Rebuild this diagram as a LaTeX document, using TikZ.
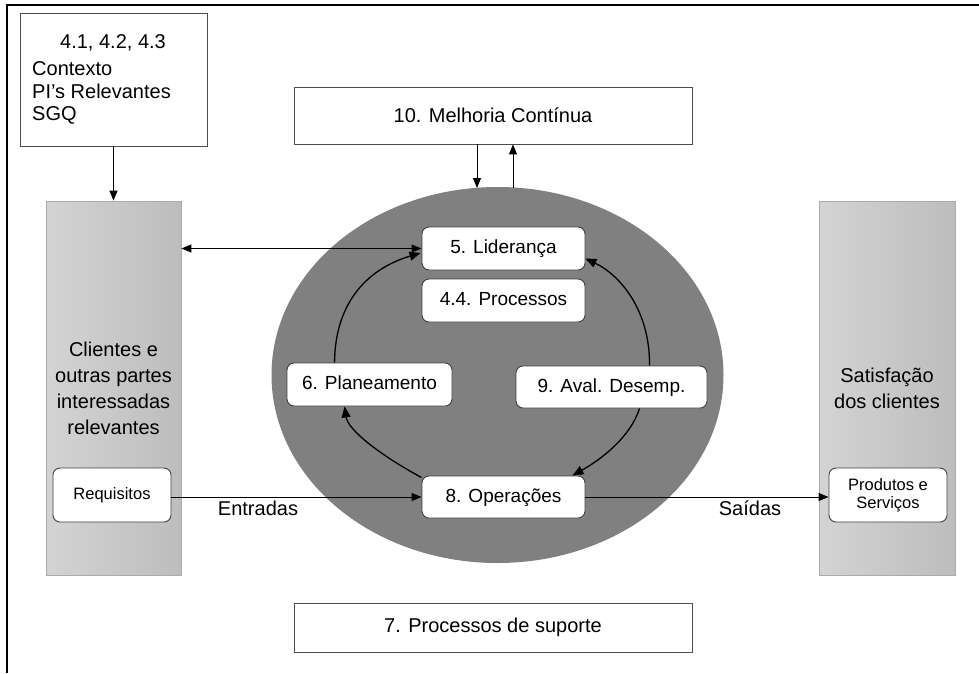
\documentclass[tikz,border=0pt]{standalone}
\usepackage{fontspec}
\setmainfont{Liberation Sans}
\usetikzlibrary{arrows.meta,shapes.geometric,calc}

\tikzset{
  big/.style={font=\fontsize{20}{26}\selectfont},
  mid/.style={font=\fontsize{19}{23}\selectfont, text height=14pt, text depth=4pt},
  small/.style={font=\fontsize{16.5}{18}\selectfont},
  sqbox/.style={draw=black!70, fill=white, line width=0.8pt, inner sep=0pt},
  rbox/.style={draw=black!75, fill=white, line width=0.9pt, rounded corners=7pt, inner sep=0pt},
  column/.style={draw=black!33, line width=0.8pt, left color=black!17, right color=black!26,
                 inner sep=0pt, align=center},
  tip/.tip={Triangle[length=10pt,width=8pt]},
  arr/.style={line width=0.9pt, -tip},
  dbl/.style={line width=0.9pt, tip-tip},
  cyc/.style={line width=1.3pt, -{Triangle[length=11pt,width=9pt]}},
  lbl/.style={big, inner sep=0pt},
}

\begin{document}
\begin{tikzpicture}[x=1pt,y=-1pt]
  \useasboundingbox (0,0) rectangle (979,673);

  % page frame
  \draw[line width=2pt] (7,673) -- (7,5) -- (979,5);

  % context box
  \node[sqbox, minimum width=187, minimum height=133] (ctx) at (113.5,79.5) {};
  \node[lbl, anchor=base] (ctxa) at (113,48) {4.1, 4.2, 4.3};
  \node[lbl, anchor=base west] (ctxb) at (32,75) {Contexto};
  \node[lbl, anchor=base west] (ctxc) at (32,98) {PI’s Relevantes};
  \node[lbl, anchor=base west] (ctxd) at (32,120) {SGQ};

  % improvement and support boxes
  \node[sqbox, big, minimum width=398, minimum height=57] (melh) at (493,115.5) {10. Melhoria Contínua};
  \node[sqbox, big, minimum width=398, minimum height=49] (supp) at (493,627.5) {7. Processos de suporte};

  % side columns
  \node[column, big, minimum width=135, minimum height=374] (lcol) at (113.5,388)
    {Clientes e\\outras partes\\interessadas\\relevantes};
  \node[column, big, minimum width=136, minimum height=374] (rcol) at (887,388)
    {Satisfação\\dos clientes};

  % central ellipse
  \node[ellipse, fill=black!50, minimum width=452, minimum height=376, inner sep=0pt] (ell) at (497.5,375) {};

  % process boxes
  \node[rbox, mid, minimum width=163, minimum height=43] (lid)  at (503.5,248.5) {5. Liderança};
  \node[rbox, mid, minimum width=163, minimum height=43] (proc) at (503.5,300.5) {4.4. Processos};
  \node[rbox, mid, minimum width=165, minimum height=43] (plan) at (369.5,384.5) {6. Planeamento};
  \node[rbox, mid, minimum width=191, minimum height=42] (aval) at (611.5,387)   {9. Aval. Desemp.};
  \node[rbox, mid, minimum width=163, minimum height=42] (ops)  at (503.5,497)   {8. Operações};

  \node[rbox, small, minimum width=118, minimum height=54] (req)  at (112,495) {Requisitos};
  \node[rbox, small, minimum width=118, minimum height=54, align=center] (prod) at (888,495)
    {Produtos e\\Serviços};

  % straight connectors
  \draw[arr] (ctx.south) -- (ctx.south |- lcol.north);
  \draw[dbl] (lcol.east |- lid.west) -- (lid.west);

  \coordinate (dn)  at (477,188);
  \coordinate (upc) at (513,188);
  \draw[arr] (dn |- melh.south) -- (dn);
  \draw[arr] (upc) -- (upc |- melh.south);

  \draw[arr] (req.east |- ops.west) -- (ops.west);
  \draw[arr] (ops.east) -- (ops.east -| prod.west);
  \node[lbl, anchor=base] (entr) at (258,515) {Entradas};
  \node[lbl, anchor=base] (said) at (750,515) {Saídas};

  % improvement cycle
  \draw[cyc] ($(plan.north west)+(48,0)$) .. controls (335,300) and (370,268) .. ($(lid.west)+(-1,4.5)$);
  \draw[cyc] ($(ops.north west)+(0,2)$) .. controls (380,455) and (348,430) .. ($(plan.south west)+(58,0)$);
  \draw[cyc] ($(aval.north west)+(134,0)$) .. controls (650,310) and (620,275) .. ($(lid.east)+(0,10)$);
  \draw[cyc] ($(aval.south west)+(124,0)$) .. controls (630,438) and (600,460) .. ($(ops.north east)+(-13,0)$);
\end{tikzpicture}
\end{document}
